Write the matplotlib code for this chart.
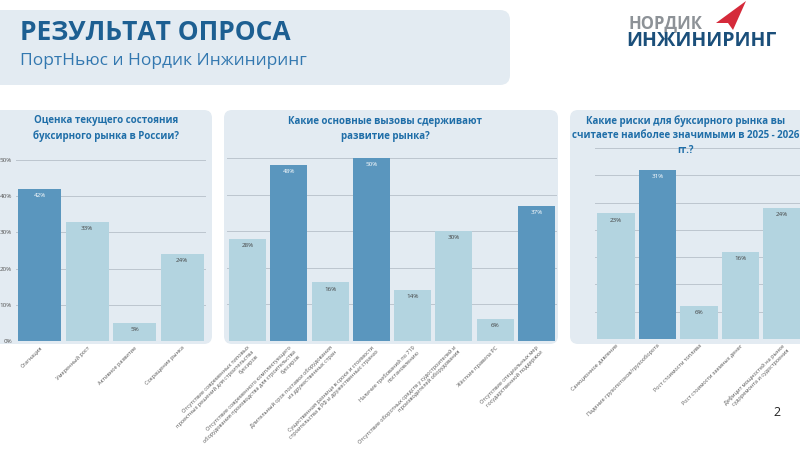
import matplotlib
matplotlib.use("Agg")
import matplotlib.pyplot as plt
from matplotlib.patches import FancyBboxPatch, Polygon

plt.rcParams['font.family'] = ['Open Sans', 'DejaVu Sans']

# --- data ---
q1_title = "Оценка текущего состояния\nбуксирного рынка в России?"
q1_labels = ["Стагнация", "Умеренный рост", "Активное развитие", "Сокращение рынка"]
q1_values = [42, 33, 5, 24]
q1_highlight = [0]

q2_title = "Какие основные вызовы сдерживают\nразвитие рынка?"
q2_labels = [
    "Отсутствие современных типовых\nпроектных решений для строительства\nбуксиров",
    "Отсутствие современного комплектующего\nоборудования производства для строительства\nбуксиров",
    "Длительный срок поставки оборудования\nиз дружественных стран",
    "Существенная разница в сроке и стоимости\nстроительства в РФ и дружественных странах",
    "Наличие требований по 719\nпостановлению",
    "Отсутствие оборотных средств у судостроителей и\nпроизводителей оборудования",
    "Жёсткие правила РС",
    "Отсутствие специальных мер\nгосударственной поддержки",
]
q2_values = [28, 48, 16, 50, 14, 30, 6, 37]
q2_highlight = [1, 3, 7]

q3_title = "Какие риски для буксирного рынка вы\nсчитаете наиболее значимыми в 2025 - 2026\nгг.?"
q3_labels = [
    "Санкционное давление",
    "Падение грузопотоков/грузооборота",
    "Рост стоимости топлива",
    "Рост стоимости заемных денег",
    "Дефицит мощностей на рынке\nсудоремонта и судостроения",
]
q3_values = [23, 31, 6, 16, 24]
q3_highlight = [1]

W, H = 800, 453
DARK = "#5a96be"
LIGHT = "#b3d4e0"
PANEL = "#e3ebf2"
TITLE_BLUE = "#1f6ea8"

fig = plt.figure(figsize=(W / 100, H / 100), dpi=100)
fig.patch.set_facecolor("white")


def rect(x0, y0, x1, y1):
    # pixel box (top-left origin) -> figure fraction
    return [x0 / W, 1 - y1 / H, (x1 - x0) / W, (y1 - y0) / H]


def box(x0, y0, x1, y1, r=8):
    p = FancyBboxPatch((x0 / 100, (H - y1) / 100), (x1 - x0) / 100, (y1 - y0) / 100,
                       boxstyle=f"round,pad=0,rounding_size={r / 100}",
                       transform=fig.dpi_scale_trans, facecolor=PANEL,
                       edgecolor="none", zorder=-1)
    fig.patches.append(p)


# header band and panels
box(-20, 10, 510, 85, 10)
box(-20, 110, 212, 344, 8)
box(224, 110, 558, 344, 8)
box(570, 110, 830, 344, 8)

fig.text(20 / W, 1 - 32 / H, "РЕЗУЛЬТАТ ОПРОСА", fontsize=19, fontweight="bold",
         color="#1d5f92", va="center", ha="left")
fig.text(20 / W, 1 - 61 / H, "ПортНьюс и Нордик Инжиниринг", fontsize=12.5,
         color="#3378b0", va="center", ha="left")

# logo
fig.text(628 / W, 1 - 28 / H, "НОРДИК", fontsize=12, fontweight="bold",
         color="#8d9297", va="baseline", ha="left")
fig.text(626 / W, 1 - 46 / H, "ИНЖИНИРИНГ", fontsize=14, fontweight="bold",
         color="#1b4f7a", va="baseline", ha="left")
arrow = Polygon([(716 / 100, (H - 23) / 100), (746 / 100, (H - 1) / 100),
                 (733 / 100, (H - 30) / 100), (728 / 100, (H - 23) / 100)],
                closed=True, transform=fig.dpi_scale_trans, facecolor="#d52a3a",
                edgecolor="none")
fig.patches.append(arrow)

fig.text(777 / W, 1 - 412 / H, "2", fontsize=9, color="#222", ha="center", va="center")


def draw_panel(pos, labels, values, highlight, ymax, step, show_y, title, title_x, title_y):
    ax = fig.add_axes(rect(*pos))
    ax.set_zorder(2)
    ax.patch.set_alpha(0)
    n = len(values)
    colors = [DARK if i in highlight else LIGHT for i in range(n)]
    ax.bar(range(n), values, width=0.9, color=colors, zorder=2)
    ax.set_xlim(-0.5, n - 0.5)
    ax.set_ylim(0, ymax)
    ticks = list(range(0, ymax + 1, step))
    ax.set_yticks(ticks)
    if show_y:
        ax.set_yticklabels([f"{t}%" for t in ticks], fontsize=4.5, color="#555")
    else:
        ax.set_yticklabels([])
    ax.yaxis.grid(True, color="#bcc5ce", lw=0.7)
    ax.set_axisbelow(True)
    ax.tick_params(length=0, pad=3)
    ax.set_xticks(range(n))
    ax.set_xticklabels(labels, rotation=45, ha="right", rotation_mode="anchor",
                       fontsize=4, color="#555")
    for s in ax.spines.values():
        s.set_visible(False)
    for i, v in enumerate(values):
        ax.annotate(f"{v}%", (i, v), xytext=(0, -3), textcoords="offset points",
                    ha="center", va="top", fontsize=4.5,
                    color="white" if i in highlight else "#444")
    fig.text(title_x / W, 1 - title_y / H, title, fontsize=7, fontweight="bold",
             color=TITLE_BLUE, ha="center", va="top", linespacing=1.45)
    return ax


draw_panel((16, 160, 206, 341), q1_labels, q1_values, q1_highlight, 50, 10, True,
           q1_title, 106, 115)
draw_panel((227, 158, 557, 341), q2_labels, q2_values, q2_highlight, 50, 10, False,
           q2_title, 385, 116)
draw_panel((595, 148, 803, 339), q3_labels, q3_values, q3_highlight, 35, 5, False,
           q3_title, 686, 115)

fig.savefig("out.png", dpi=100, facecolor="white")
